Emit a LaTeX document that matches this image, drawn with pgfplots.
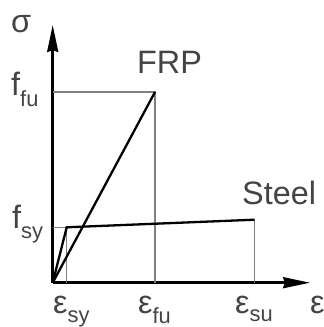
\documentclass[border=0pt]{standalone}
\usepackage{pgfplots}
\pgfplotsset{compat=1.18}
\usepackage{fontspec}
\setmainfont{Liberation Sans}
\usetikzlibrary{arrows.meta}
\definecolor{txt}{HTML}{444444}
\definecolor{guide}{HTML}{808080}
% lowered, smaller subscript set in the text font
\newcommand{\sub}[2][10bp]{\raisebox{-#1}{\fontsize{22}{22}\selectfont #2}}
\tikzset{lbl/.style={text=txt, font=\fontsize{32.5}{36}\selectfont, inner sep=0pt, anchor=base west}}

\begin{document}
\begin{tikzpicture}
\useasboundingbox (-52.7bp,-44.3bp) rectangle (271.3bp,282.7bp);
\begin{axis}[
  x=1bp, y=1bp,
  xmin=0, xmax=257.3, ymin=0, ymax=257.7,
  axis lines=left, xtick=\empty, ytick=\empty,
  enlargelimits=false, clip=false,
  axis line style={line width=2.7bp, black},
  x axis line style={-{Stealth[length=27bp,width=11bp,inset=2bp]}},
  y axis line style={-{Stealth[length=27bp,width=11bp,inset=2bp]}},
]
% dimension guides
\addplot[guide, line width=1.5bp] coordinates {(0,190.7) (102.3,190.7) (102.3,0)};
\addplot[guide, line width=1.5bp] coordinates {(0,55.4) (14,55.4) (14,0)};
\addplot[guide, line width=1.5bp] coordinates {(202,63) (202,0)};
% stress-strain laws
\addplot[black, line width=2.3bp] coordinates {(0,0) (102.3,190.7)};
\addplot[black, line width=2.3bp] coordinates {(0,0) (14,55.4) (202,63)};
% labels
\node[lbl] at (axis cs:-41.7,250.7) {σ};
\node[lbl] at (axis cs:-41.7,187.7) {f\sub[11bp]{fu}};
\node[lbl] at (axis cs:-40.7,54.7) {f\sub{sy}};
\node[lbl] at (axis cs:0.3,-30.3) {ε\sub[9bp]{sy}};
\node[lbl] at (axis cs:85.3,-30.3) {ε\sub{fu}};
\node[lbl] at (axis cs:182.3,-30.3) {ε\sub[8bp]{su}};
\node[lbl] at (axis cs:257.3,-30.3) {ε};
\node[lbl] at (axis cs:84.3,209.7) {FRP};
\node[lbl] at (axis cs:189.3,78.7) {Steel};
\end{axis}
\end{tikzpicture}
\end{document}
